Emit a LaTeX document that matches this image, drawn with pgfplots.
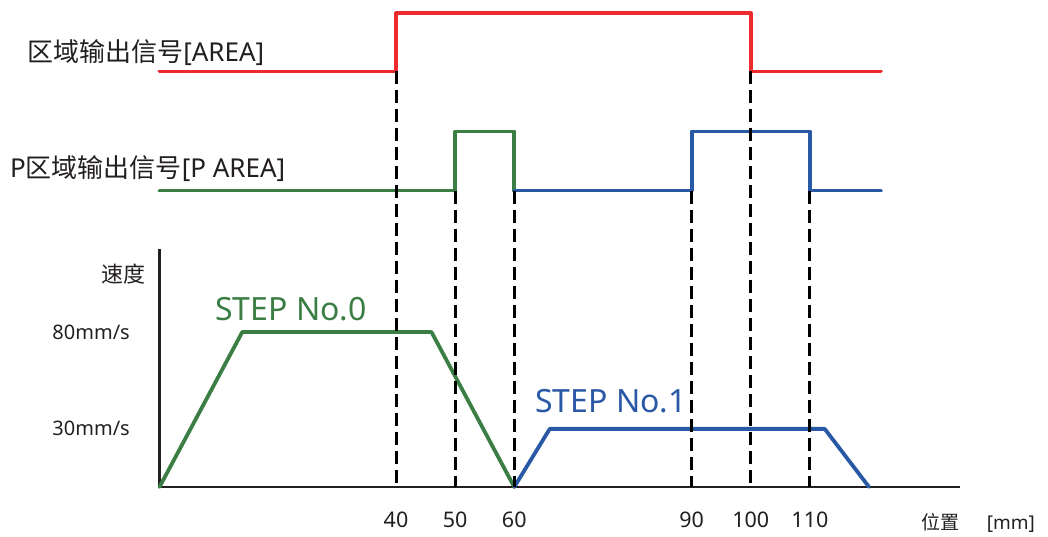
\documentclass[border=0pt]{standalone}
\usepackage{pgfplots}
\pgfplotsset{compat=1.18}
\usepackage{fontspec}
\setmainfont{Noto Sans}
\newfontfamily\cjk{Noto Sans CJK SC}
\definecolor{sigred}{RGB}{237,43,46}
\definecolor{stepgreen}{RGB}{58,126,68}
\definecolor{stepblue}{RGB}{41,88,165}
\definecolor{inkgray}{RGB}{35,31,32}

\begin{document}
\begin{tikzpicture}[x=1pt,y=1pt]
\useasboundingbox (0,0) rectangle (1048,536);
\begin{axis}[
  at={(159.5pt,49pt)}, anchor=south west,
  scale only axis, width=800pt, height=238.3pt,
  xmin=0, xmax=135.3, ymin=0, ymax=123,
  axis lines*=left,
  axis line style={draw=inkgray, line width=2.2pt},
  clip=false,
  xtick={40,50,60,90,100,110},
  xticklabels={40,50,60,90,100,110},
  ytick={30,80},
  yticklabels={30mm/s,80mm/s},
  major tick length=0pt,
  tick style={draw=none},
  xticklabel style={font=\fontsize{21.5}{24}\selectfont, text=inkgray,
    anchor=base, inner sep=0pt, yshift=-40.5pt},
  yticklabel style={font=\fontsize{20}{24}\selectfont, text=inkgray,
    anchor=base east, inner sep=0pt, xshift=-29.5pt, yshift=-7pt},
  /pgf/number format/assume math mode=true,
  every axis plot/.append style={line cap=round, line join=round},
]
% area output signal [AREA]
\addplot[sigred, line width=3.8pt] coordinates {
  (0,214.5) (40,214.5) (40,244.5) (100,244.5) (100,214.5) (122,214.5)};
% P area output signal, step 0 part
\addplot[stepgreen, line width=3.8pt] coordinates {
  (0,153) (50,153) (50,183.5) (60,183.5) (60,153)};
% P area output signal, step 1 part
\addplot[stepblue, line width=3.8pt] coordinates {
  (60,153) (90,153) (90,183.5) (110,183.5) (110,153) (122,153)};

% speed profiles
\addplot[stepgreen, line width=3.8pt] coordinates {
  (0,0) (14,80) (46,80) (60,0)};
\addplot[stepblue, line width=3.8pt] coordinates {
  (60,0) (66,30) (112.5,30) (120,0)};

% position markers
\addplot[black, line width=3pt, line cap=butt, dash pattern=on 13pt off 6pt] coordinates {(40,214.5) (40,0)};
\addplot[black, line width=3pt, line cap=butt, dash pattern=on 13pt off 6pt] coordinates {(50,153) (50,0)};
\addplot[black, line width=3pt, line cap=butt, dash pattern=on 13pt off 6pt] coordinates {(60,153) (60,0)};
\addplot[black, line width=3pt, line cap=butt, dash pattern=on 13pt off 6pt] coordinates {(90,153) (90,0)};
\addplot[black, line width=3pt, line cap=butt, dash pattern=on 13pt off 6pt] coordinates {(100,214.5) (100,0)};
\addplot[black, line width=3pt, line cap=butt, dash pattern=on 13pt off 6pt] coordinates {(110,153) (110,0)};

% labels
\node[anchor=base west, inner sep=0pt, text=inkgray, font=\fontsize{26}{30}\selectfont]
  at (axis cs:-22.4,219.8) {{\cjk 区域输出信号}[AREA]};
\node[anchor=base west, inner sep=0pt, text=inkgray, font=\fontsize{26}{30}\selectfont]
  at (axis cs:-25.3,160) {P{\cjk 区域输出信号}[P AREA]};
\node[anchor=base west, inner sep=0pt, text=inkgray, font=\fontsize{22}{26}\selectfont\cjk]
  at (axis cs:-9.9,105.3) {速度};
\node[anchor=base west, inner sep=0pt, text=inkgray, font=\fontsize{19}{22}\selectfont]
  at (axis cs:128.9,-22) {{\cjk 位置}\hspace{27pt}[mm]};
\node[anchor=base west, inner sep=0pt, text=stepgreen, font=\fontsize{32}{36}\selectfont]
  at (axis cs:9.4,85.7) {STEP No.0};
\node[anchor=base west, inner sep=0pt, text=stepblue, font=\fontsize{32}{36}\selectfont]
  at (axis cs:63.5,38.2) {STEP No.1};
\end{axis}
\end{tikzpicture}
\end{document}
